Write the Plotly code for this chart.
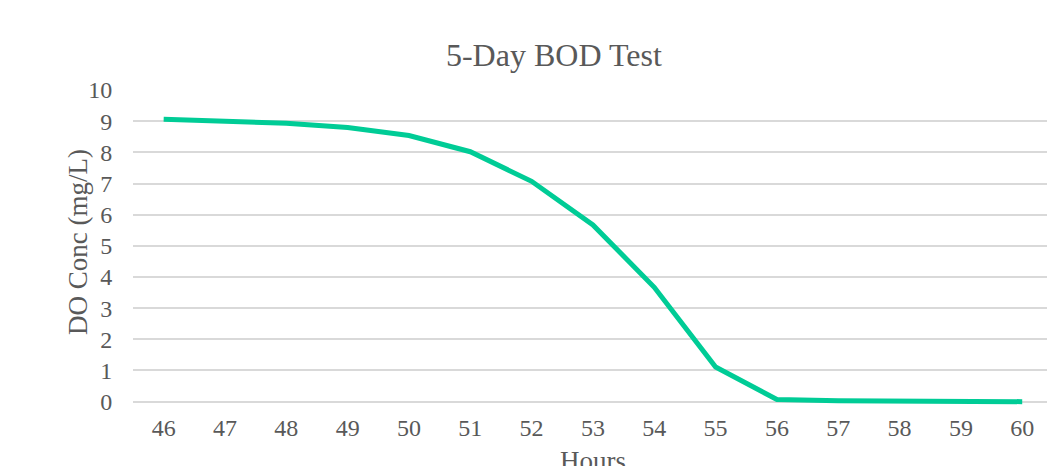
import plotly.graph_objects as go

# Dissolved-oxygen readings over the incubation window
hours = ["46", "47", "48", "49", "50", "51", "52", "53", "54", "55", "56", "57", "58", "59", "60"]
do_conc = [9.06, 9.01, 8.93, 8.80, 8.54, 8.02, 7.07, 5.67, 3.67, 1.11, 0.07, 0.03, 0.02, 0.01, 0.0]
y_ticks = [0, 1, 2, 3, 4, 5, 6, 7, 8, 9, 10]

FONT = "Liberation Serif, Times New Roman, serif"
GREY = "#595959"
W, H = 1047, 466
M_L, M_R, M_T, M_B = 133, 0, 90, 55
PLOT_W = W - M_L - M_R
PLOT_H = H - M_T - M_B

fig = go.Figure()
fig.add_trace(go.Scatter(
    x=hours, y=do_conc, mode="lines",
    line=dict(color="#00CC96", width=5),
    hoverinfo="x+y", showlegend=False,
))

fig.update_layout(
    width=W, height=H,
    margin=dict(l=M_L, r=M_R, t=M_T, b=M_B),
    paper_bgcolor="white", plot_bgcolor="white",
    font=dict(family=FONT, color=GREY, size=24),
    title=dict(text="5-Day BOD Test", x=0.529, xanchor="center",
               y=1 - 55 / H, yanchor="middle", yref="container",
               font=dict(family=FONT, size=32, color=GREY)),
    xaxis=dict(
        type="category", range=[-0.5, 14.404], automargin=False,
        showgrid=False, zeroline=False, showline=False,
        ticks="", tickfont=dict(size=24, color=GREY),
    ),
    yaxis=dict(
        range=[-0.3, 10], tickvals=y_ticks, automargin=False,
        showgrid=True, gridcolor="#D9D9D9", gridwidth=1.5,
        zeroline=False, showline=False,
        ticks="outside", ticklen=15, tickcolor="rgba(0,0,0,0)",
        tickfont=dict(size=24, color=GREY),
    ),
    annotations=[
        dict(text="Hours", xref="paper", yref="paper",
             x=(593 - M_L) / PLOT_W, y=-(444 - (H - M_B)) / PLOT_H,
             xanchor="center", yanchor="top", showarrow=False,
             font=dict(size=27, color=GREY)),
        dict(text="DO Conc (mg/L)", xref="paper", yref="paper",
             x=(78 - M_L) / PLOT_W, y=1 - (242 - M_T) / PLOT_H,
             xanchor="center", yanchor="middle", textangle=-90, showarrow=False,
             font=dict(size=27, color=GREY)),
    ],
)

fig.write_html("out.html")
